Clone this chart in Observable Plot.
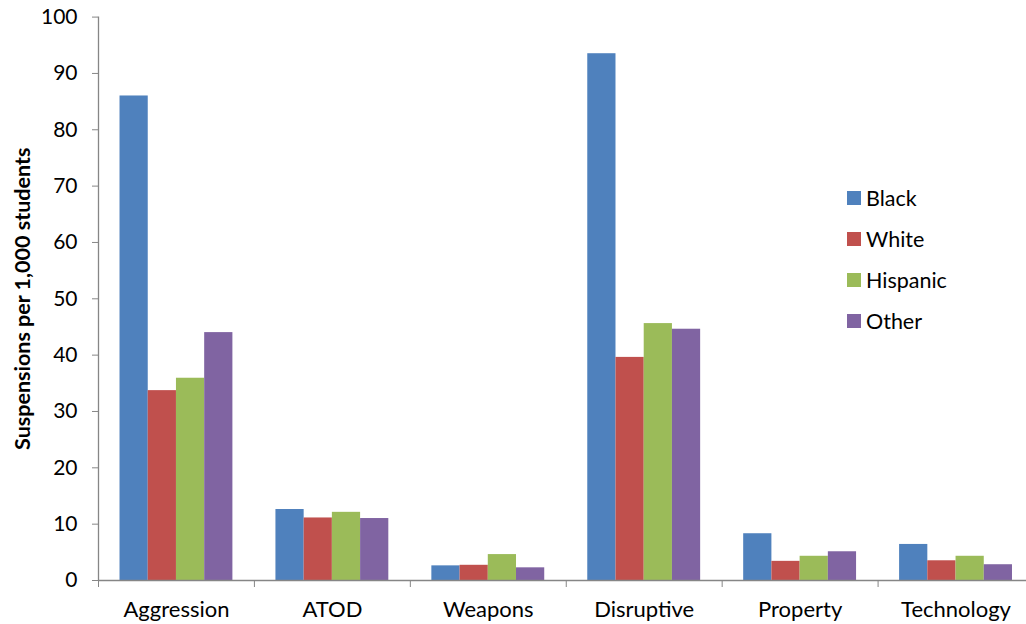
<!DOCTYPE html>
<html><head><meta charset="utf-8">
<script src="https://cdn.jsdelivr.net/npm/d3@7"></script>
<script src="https://cdn.jsdelivr.net/npm/@observablehq/plot@0.6"></script>
<style>
body{margin:0;background:#fff;}
#wrap{position:relative;width:1026px;height:624px;font-family:Lato, sans-serif;}
#legend{position:absolute;left:847px;top:177px;}
.row{display:flex;align-items:center;height:41px;font-size:21.5px;color:#000;}
.sw{width:14px;height:14px;margin-right:5px;}
</style></head><body><div id="wrap"></div>
<script>
const categories = ["Aggression","ATOD","Weapons","Disruptive","Property","Technology"];
const races = ["Black","White","Hispanic","Other"];
const colors = ["#4F81BD","#C0504D","#9BBB59","#8064A2"];
const black = [86.0,12.6,2.6,93.5,8.3,6.4];
const white = [33.7,11.1,2.7,39.6,3.4,3.5];
const hispanic = [35.9,12.1,4.6,45.6,4.3,4.3];
const other = [44.0,11.0,2.25,44.6,5.1,2.8];
const yTicks = d3.range(0,101,10);
const yLabel = "Suspensions per 1,000 students";

const series = [black, white, hispanic, other];
const data = categories.flatMap((c, ci) => races.map((r, ri) => ({category: c, ci, race: r, ri, value: series[ri][ci]})));

const grey = "#868686";
const groupPad = 0.138, barW = 0.181;
const fontFamily = "Lato, sans-serif";

const chart = Plot.plot({
  width: 1026, height: 624,
  marginLeft: 98, marginTop: 16.6, marginBottom: 44, marginRight: 0,
  style: {fontFamily, background: "#fff", color: "#000"},
  x: {type: "linear", domain: [0, 6], range: [98, 1033.5]},
  y: {domain: [0, 100], range: [580, 16.6]},
  color: {domain: races, range: colors},
  marks: [
    Plot.rectY(data, {x1: d => d.ci + groupPad + d.ri * barW, x2: d => d.ci + groupPad + (d.ri + 1) * barW, y: "value", fill: "race"}),
    Plot.ruleX([0], {y1: 0, y2: 100, stroke: grey, strokeWidth: 1.3}),
    Plot.ruleY([0], {x1: 0, x2: 6, stroke: grey, strokeWidth: 1.3}),
    Plot.axisY({ticks: yTicks, tickSize: 6, tickPadding: 15, stroke: grey, fill: "#000", fontSize: 21, label: null, tickFormat: d => d}),
    Plot.axisX({ticks: d3.range(0, 7), tickSize: 7, tickFormat: () => "", stroke: grey, label: null}),
    Plot.axisX({ticks: d3.range(6).map(i => i + 0.5), tickSize: 0, tickPadding: 21, fill: "#000", fontSize: 22, label: null, tickFormat: v => categories[Math.floor(v)]}),
    Plot.text([yLabel], {frameAnchor: "left", textAnchor: "middle", rotate: -90, dx: -75, fontWeight: "bold", fontSize: 21.5, fill: "#000"})
  ]
});
const wrap = document.getElementById("wrap");
wrap.appendChild(chart);
const legend = document.createElement("div");
legend.id = "legend";
races.forEach((r, i) => {
  const row = document.createElement("div");
  row.className = "row";
  const sw = document.createElement("div");
  sw.className = "sw";
  sw.style.background = colors[i];
  const t = document.createElement("span");
  t.textContent = r;
  row.appendChild(sw); row.appendChild(t);
  legend.appendChild(row);
});
wrap.appendChild(legend);
</script></body></html>
